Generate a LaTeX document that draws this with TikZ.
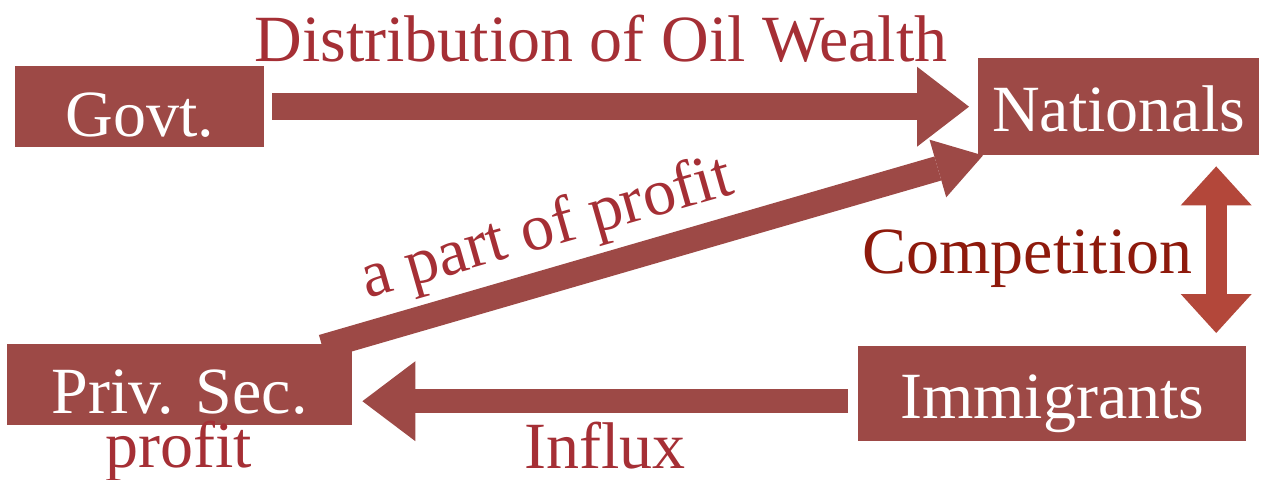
\documentclass[tikz,border=0pt]{standalone}
\usepackage{fontspec}
\setmainfont{Liberation Serif}
\usetikzlibrary{arrows.meta,calc}
\pgfdeclarelayer{bg}
\pgfsetlayers{bg,main}
\definecolor{boxred}{RGB}{157,73,70}
\definecolor{labelred}{RGB}{165,47,53}
\definecolor{compred}{RGB}{142,26,12}
\definecolor{dblred}{RGB}{179,71,58}
\newcommand{\dgfont}{\fontsize{66}{72}\selectfont}
\tikzset{
  box/.style={fill=boxred, text=white, inner xsep=0pt, inner ysep=0pt, font=\dgfont, anchor=north west},
  lbl/.style={text=labelred, font=\dgfont, inner sep=0pt, anchor=base},
  fatline/.style={draw=boxred, line width=#1},
  bighead/.style 2 args={-{Triangle[width=#1,length=#2,line width=0pt]}},
}
\begin{document}
\begin{tikzpicture}[x=1pt,y=-1pt]
\useasboundingbox (0,0) rectangle (1263,479);
% boxes
\node[box, minimum width=249pt, text height=70pt, text depth=11pt] (govt) at (15,66) {Govt.};
\node[box, minimum width=281pt, text height=73pt, text depth=24pt] (nat) at (978,58) {Nationals};
\node[box, minimum width=345pt, text height=69pt, text depth=12pt] (priv) at (7,344) {Priv. Sec.};
\node[box, minimum width=388pt, text height=72pt, text depth=23pt] (imm) at (858,346) {Immigrants};
% labels
\node[lbl] (dist) at (601,61) {Distribution of Oil Wealth};
\node[lbl, text=compred] (comp) at (1027.5,273) {Competition};
\node[lbl] (influx) at (605,468) {Influx};
\node[lbl] (profit) at (179,467) {profit};
\node[lbl, rotate=16] (part) at (552,246) {a part of profit};
% connectors
\coordinate (ctop) at ($(nat.south)+(97.5,11)$);
\coordinate (cbot) at ($(imm.north)+(164,-13)$);
\begin{pgfonlayer}{bg}
\draw[fatline=27pt, bighead={80pt}{52pt}] ($(govt.east)+(8,0)$) -- ($(nat.west)+(-9,0)$);
\draw[fatline=24pt, bighead={80pt}{53pt}] ($(imm.west)+(-10,7.5)$) -- ($(priv.east)+(10,16.5)$);
\draw[fatline=25pt, bighead={60pt}{47pt}] ($(priv.north east)+(-30,3)$) -- ($(nat.south west)+(5,0)$);
\draw[draw=dblred, line width=21pt, {Triangle[width=71pt,length=39pt,line width=0pt]}-{Triangle[width=71pt,length=39pt,line width=0pt]}] (ctop) -- (cbot);
\end{pgfonlayer}
\end{tikzpicture}
\end{document}
